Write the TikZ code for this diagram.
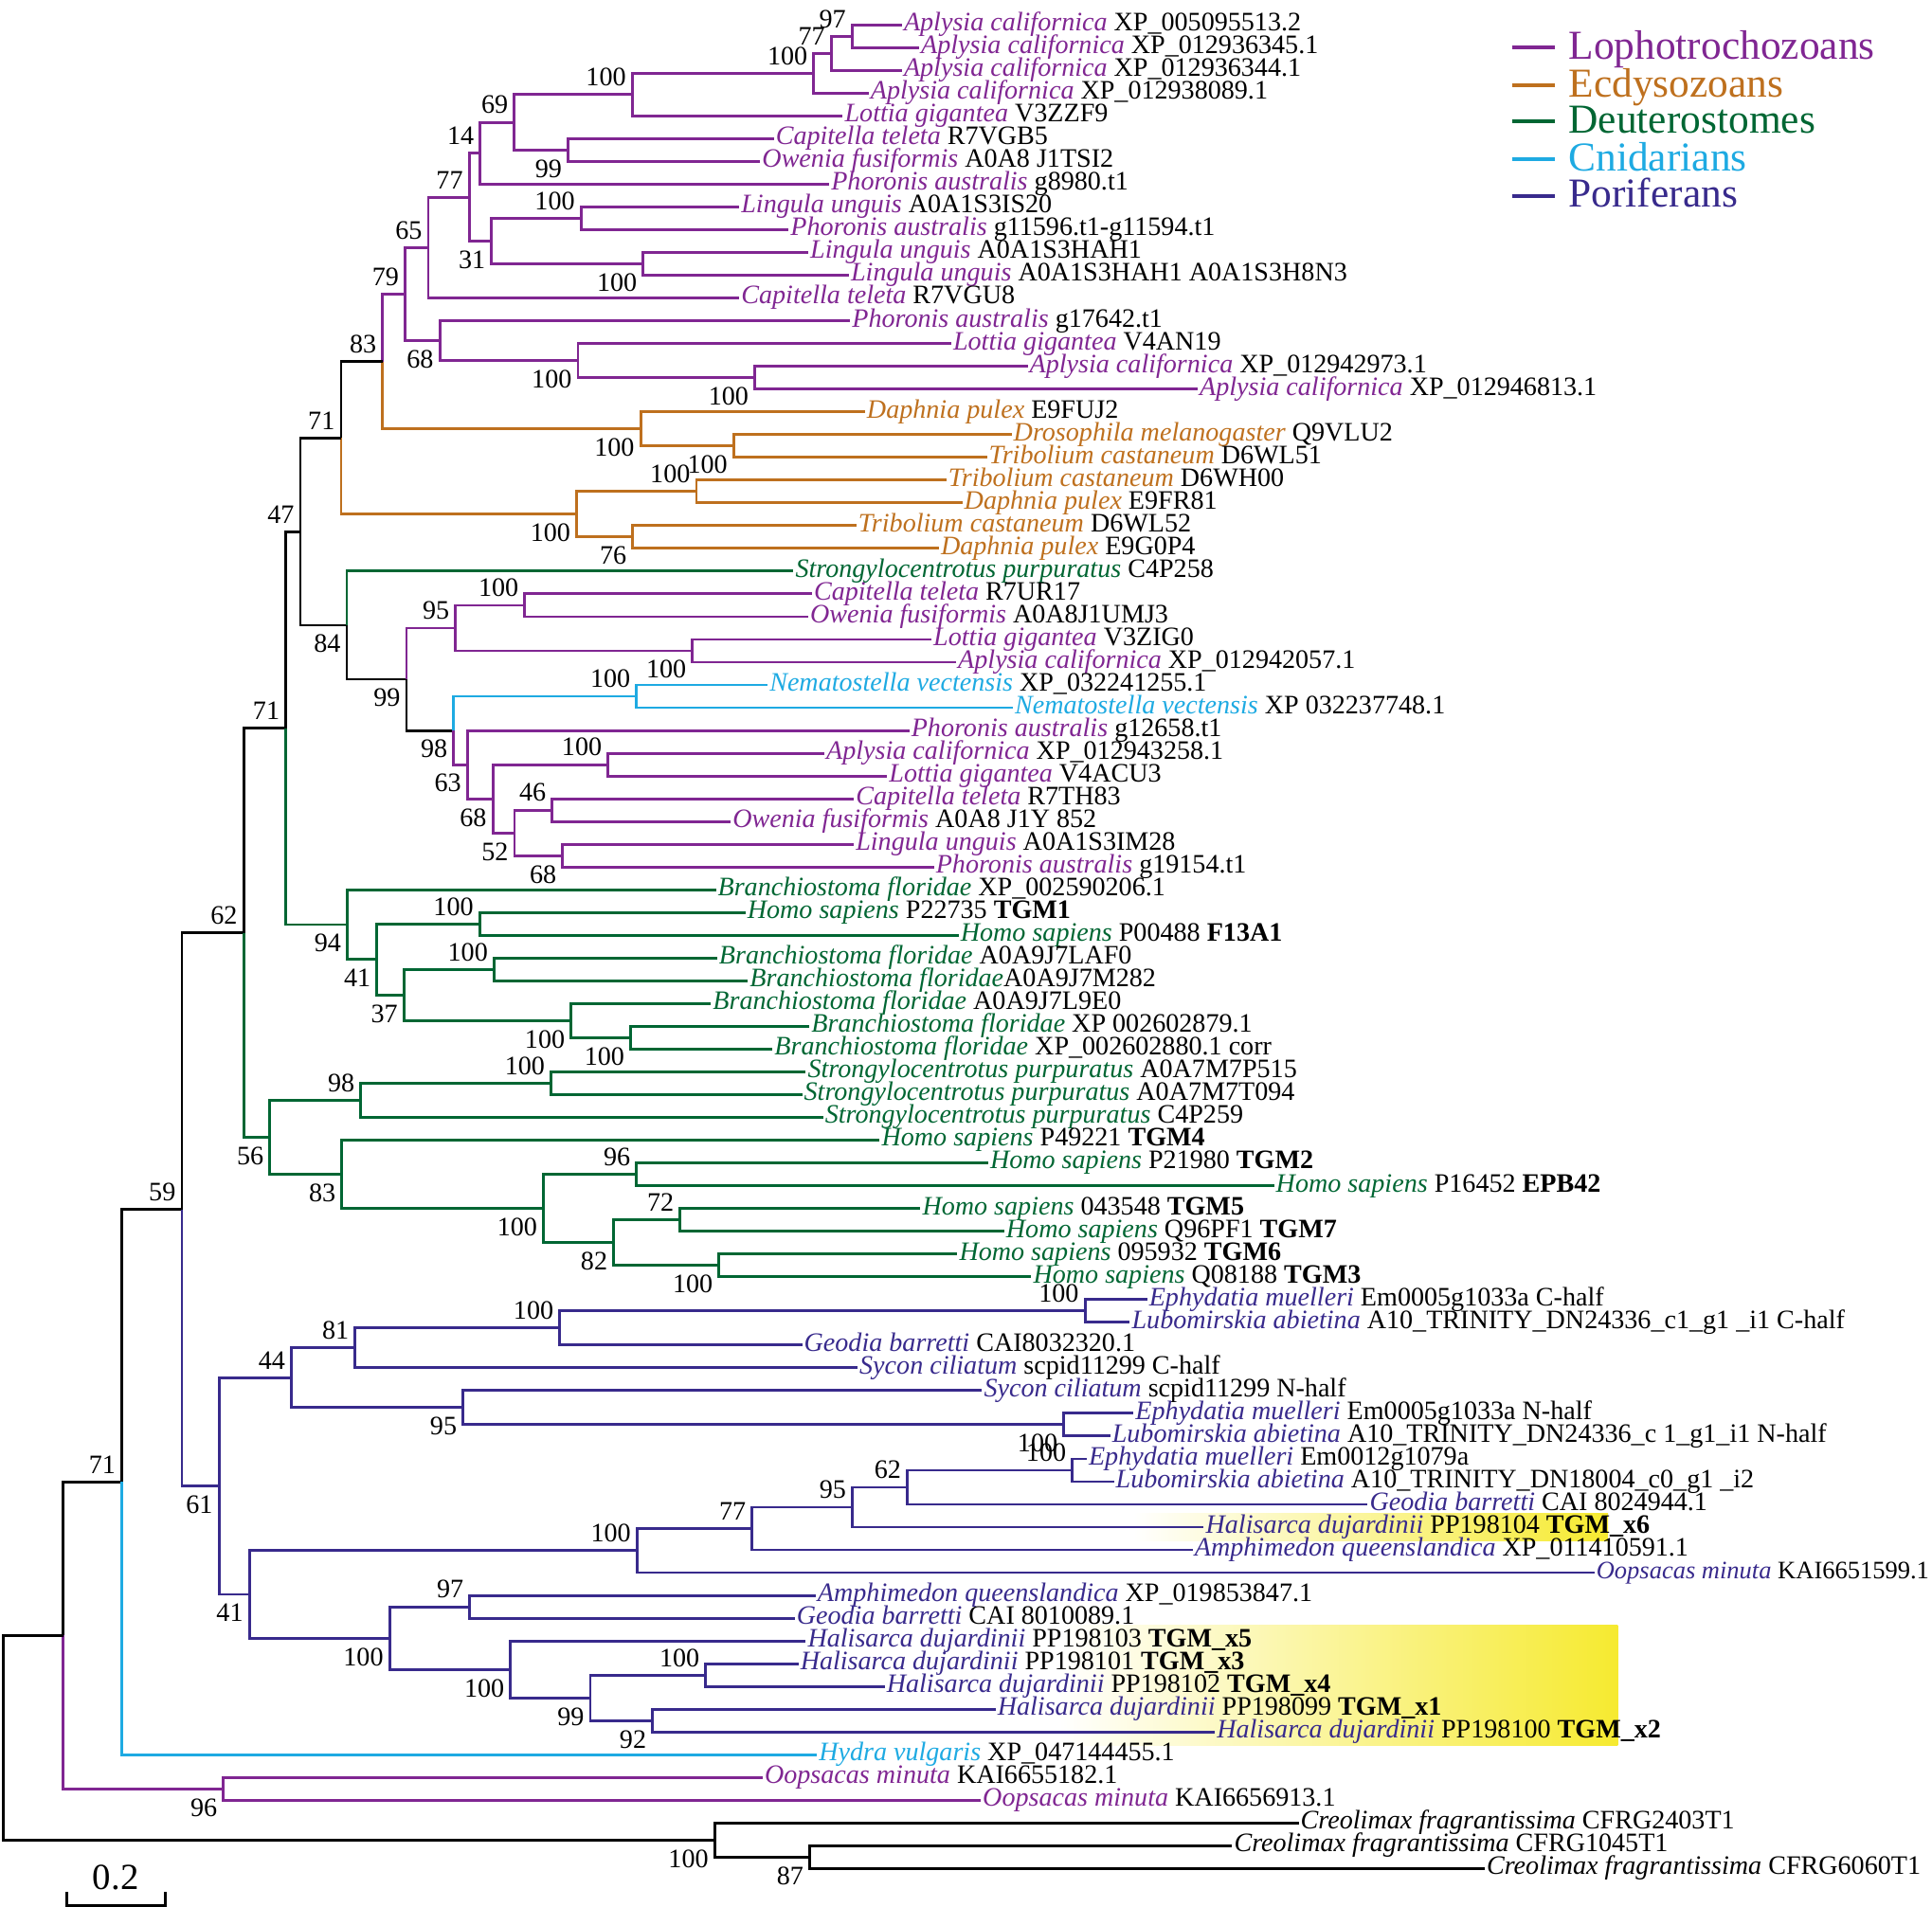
\documentclass[tikz,border=0pt]{standalone}
\usepackage{fontspec}
\setmainfont{Liberation Serif}
\usepackage{tikz}
\definecolor{lopho}{RGB}{128,38,146}
\definecolor{ecdy}{RGB}{190,112,30}
\definecolor{deut}{RGB}{0,102,51}
\definecolor{cnid}{RGB}{30,170,226}
\definecolor{pori}{RGB}{56,42,140}
\definecolor{hl}{RGB}{246,234,48}
\newcommand{\taxon}[2]{\textit{#1} \textcolor{black}{#2}}

\begin{document}
\begin{tikzpicture}[x=0.02cm,y=-0.3696cm,line width=1.25pt]
\tikzstyle{leaf}=[anchor=west,inner sep=0.3pt,text height=7.6pt,text depth=2pt,font=\fontsize{12.3}{12}\selectfont]
\tikzstyle{bsa}=[anchor=south east,inner sep=0pt,xshift=-0.08cm,yshift=0.115cm,font=\fontsize{12.3}{12}\selectfont]
\tikzstyle{bsb}=[anchor=north east,inner sep=0pt,xshift=-0.08cm,yshift=-0.135cm,font=\fontsize{12.3}{12}\selectfont]
\tikzstyle{key}=[anchor=west,inner xsep=0.2cm,inner ysep=0pt,text height=14pt,text depth=3.2pt,font=\fontsize{19}{19}\selectfont]
\useasboundingbox (0,-1.0931) rectangle (1568,82.673);

% highlighted Halisarca genes
\shade[left color=white,right color=hl] (920,65.41) rectangle (1305,66.6);
\shade[left color=white,right color=hl] (860,70.3) rectangle (1313,75.58);

% leaves
\node[leaf,text=lopho] (l0) at (732,0) {\taxon{Aplysia californica}{XP\_005095513.2}};
\node[leaf,text=lopho] (l1) at (746,1) {\taxon{Aplysia californica}{XP\_012936345.1}};
\node[leaf,text=lopho] (l2) at (732,2) {\taxon{Aplysia californica}{XP\_012936344.1}};
\node[leaf,text=lopho] (l3) at (705,3) {\taxon{Aplysia californica}{XP\_012938089.1}};
\node[leaf,text=lopho] (l4) at (684,4) {\taxon{Lottia gigantea}{V3ZZF9}};
\node[leaf,text=lopho] (l5) at (628,5) {\taxon{Capitella teleta}{R7VGB5}};
\node[leaf,text=lopho] (l6) at (617,6) {\taxon{Owenia fusiformis}{A0A8 J1TSI2}};
\node[leaf,text=lopho] (l7) at (673,7) {\taxon{Phoronis australis}{g8980.t1}};
\node[leaf,text=lopho] (l8) at (600,8) {\taxon{Lingula unguis}{A0A1S3IS20}};
\node[leaf,text=lopho] (l9) at (640,9) {\taxon{Phoronis australis}{g11596.t1-g11594.t1}};
\node[leaf,text=lopho] (l10) at (656,10) {\taxon{Lingula unguis}{A0A1S3HAH1}};
\node[leaf,text=lopho] (l11) at (689,11) {\taxon{Lingula unguis}{A0A1S3HAH1 A0A1S3H8N3}};
\node[leaf,text=lopho] (l12) at (600,12) {\taxon{Capitella teleta}{R7VGU8}};
\node[leaf,text=lopho] (l13) at (690,13) {\taxon{Phoronis australis}{g17642.t1}};
\node[leaf,text=lopho] (l14) at (772,14) {\taxon{Lottia gigantea}{V4AN19}};
\node[leaf,text=lopho] (l15) at (834,15) {\taxon{Aplysia californica}{XP\_012942973.1}};
\node[leaf,text=lopho] (l16) at (972,16) {\taxon{Aplysia californica}{XP\_012946813.1}};
\node[leaf,text=ecdy] (l17) at (702,17) {\taxon{Daphnia pulex}{E9FUJ2}};
\node[leaf,text=ecdy] (l18) at (821,18) {\taxon{Drosophila melanogaster}{Q9VLU2}};
\node[leaf,text=ecdy] (l19) at (801,19) {\taxon{Tribolium castaneum}{D6WL51}};
\node[leaf,text=ecdy] (l20) at (768,20) {\taxon{Tribolium castaneum}{D6WH00}};
\node[leaf,text=ecdy] (l21) at (781,21) {\taxon{Daphnia pulex}{E9FR81}};
\node[leaf,text=ecdy] (l22) at (695,22) {\taxon{Tribolium castaneum}{D6WL52}};
\node[leaf,text=ecdy] (l23) at (762,23) {\taxon{Daphnia pulex}{E9G0P4}};
\node[leaf,text=deut] (l24) at (644,24) {\taxon{Strongylocentrotus purpuratus}{C4P258}};
\node[leaf,text=lopho] (l25) at (659,25) {\taxon{Capitella teleta}{R7UR17}};
\node[leaf,text=lopho] (l26) at (656,26) {\taxon{Owenia fusiformis}{A0A8J1UMJ3}};
\node[leaf,text=lopho] (l27) at (756,27) {\taxon{Lottia gigantea}{V3ZIG0}};
\node[leaf,text=lopho] (l28) at (776,28) {\taxon{Aplysia californica}{XP\_012942057.1}};
\node[leaf,text=cnid] (l29) at (623,29) {\taxon{Nematostella vectensis}{XP\_032241255.1}};
\node[leaf,text=cnid] (l30) at (822,30) {\taxon{Nematostella vectensis}{XP 032237748.1}};
\node[leaf,text=lopho] (l31) at (738,31) {\taxon{Phoronis australis}{g12658.t1}};
\node[leaf,text=lopho] (l32) at (669,32) {\taxon{Aplysia californica}{XP\_012943258.1}};
\node[leaf,text=lopho] (l33) at (720,33) {\taxon{Lottia gigantea}{V4ACU3}};
\node[leaf,text=lopho] (l34) at (693,34) {\taxon{Capitella teleta}{R7TH83}};
\node[leaf,text=lopho] (l35) at (593,35) {\taxon{Owenia fusiformis}{A0A8 J1Y 852}};
\node[leaf,text=lopho] (l36) at (693,36) {\taxon{Lingula unguis}{A0A1S3IM28}};
\node[leaf,text=lopho] (l37) at (758,37) {\taxon{Phoronis australis}{g19154.t1}};
\node[leaf,text=deut] (l38) at (581,38) {\taxon{Branchiostoma floridae}{XP\_002590206.1}};
\node[leaf,text=deut] (l39) at (605,39) {\taxon{Homo sapiens}{P22735 \textbf{TGM1}}};
\node[leaf,text=deut] (l40) at (778,40) {\taxon{Homo sapiens}{P00488 \textbf{F13A1}}};
\node[leaf,text=deut] (l41) at (582,41) {\taxon{Branchiostoma floridae}{A0A9J7LAF0}};
\node[leaf,text=deut] (l42) at (607,42) {\textit{Branchiostoma floridae}\textcolor{black}{A0A9J7M282}};
\node[leaf,text=deut] (l43) at (577,43) {\taxon{Branchiostoma floridae}{A0A9J7L9E0}};
\node[leaf,text=deut] (l44) at (657,44) {\taxon{Branchiostoma floridae}{XP 002602879.1}};
\node[leaf,text=deut] (l45) at (627,45) {\taxon{Branchiostoma floridae}{XP\_002602880.1 corr}};
\node[leaf,text=deut] (l46) at (654,46) {\taxon{Strongylocentrotus purpuratus}{A0A7M7P515}};
\node[leaf,text=deut] (l47) at (651,47) {\taxon{Strongylocentrotus purpuratus}{A0A7M7T094}};
\node[leaf,text=deut] (l48) at (668,48) {\taxon{Strongylocentrotus purpuratus}{C4P259}};
\node[leaf,text=deut] (l49) at (714,49) {\taxon{Homo sapiens}{P49221 \textbf{TGM4}}};
\node[leaf,text=deut] (l50) at (802,50) {\taxon{Homo sapiens}{P21980 \textbf{TGM2}}};
\node[leaf,text=deut] (l51) at (1034,51) {\taxon{Homo sapiens}{P16452 \textbf{EPB42}}};
\node[leaf,text=deut] (l52) at (747,52) {\taxon{Homo sapiens}{043548 \textbf{TGM5}}};
\node[leaf,text=deut] (l53) at (815,53) {\taxon{Homo sapiens}{Q96PF1 \textbf{TGM7}}};
\node[leaf,text=deut] (l54) at (777,54) {\taxon{Homo sapiens}{095932 \textbf{TGM6}}};
\node[leaf,text=deut] (l55) at (837,55) {\taxon{Homo sapiens}{Q08188 \textbf{TGM3}}};
\node[leaf,text=pori] (l56) at (931,56) {\taxon{Ephydatia muelleri}{Em0005g1033a C-half}};
\node[leaf,text=pori] (l57) at (917,57) {\taxon{Lubomirskia abietina}{A10\_TRINITY\_DN24336\_c1\_g1 \_i1 C-half}};
\node[leaf,text=pori] (l58) at (651,58) {\taxon{Geodia barretti}{CAI8032320.1}};
\node[leaf,text=pori] (l59) at (696,59) {\taxon{Sycon ciliatum}{scpid11299 C-half}};
\node[leaf,text=pori] (l60) at (797,60) {\taxon{Sycon ciliatum}{scpid11299 N-half}};
\node[leaf,text=pori] (l61) at (920,61) {\taxon{Ephydatia muelleri}{Em0005g1033a N-half}};
\node[leaf,text=pori] (l62) at (901,62) {\taxon{Lubomirskia abietina}{A10\_TRINITY\_DN24336\_c 1\_g1\_i1 N-half}};
\node[leaf,text=pori] (l63) at (882,63) {\taxon{Ephydatia muelleri}{Em0012g1079a}};
\node[leaf,text=pori] (l64) at (904,64) {\taxon{Lubomirskia abietina}{A10\_TRINITY\_DN18004\_c0\_g1 \_i2}};
\node[leaf,text=pori] (l65) at (1110,65) {\taxon{Geodia barretti}{CAI 8024944.1}};
\node[leaf,text=pori] (l66) at (977,66) {\taxon{Halisarca dujardinii}{PP198104 \textbf{TGM\_x6}}};
\node[leaf,text=pori] (l67) at (968,67) {\taxon{Amphimedon queenslandica}{XP\_011410591.1}};
\node[leaf,text=pori,font=\fontsize{11.6}{12}\selectfont] (l68) at (1294,68) {\taxon{Oopsacas minuta}{KAI6651599.1}};
\node[leaf,text=pori] (l69) at (662,69) {\taxon{Amphimedon queenslandica}{XP\_019853847.1}};
\node[leaf,text=pori] (l70) at (645,70) {\taxon{Geodia barretti}{CAI 8010089.1}};
\node[leaf,text=pori] (l71) at (654,71) {\taxon{Halisarca dujardinii}{PP198103 \textbf{TGM\_x5}}};
\node[leaf,text=pori] (l72) at (648,72) {\taxon{Halisarca dujardinii}{PP198101 \textbf{TGM\_x3}}};
\node[leaf,text=pori] (l73) at (718,73) {\taxon{Halisarca dujardinii}{PP198102 \textbf{TGM\_x4}}};
\node[leaf,text=pori] (l74) at (808,74) {\taxon{Halisarca dujardinii}{PP198099 \textbf{TGM\_x1}}};
\node[leaf,text=pori] (l75) at (986,75) {\taxon{Halisarca dujardinii}{PP198100 \textbf{TGM\_x2}}};
\node[leaf,text=cnid] (l76) at (663,76) {\taxon{Hydra vulgaris}{XP\_047144455.1}};
\node[leaf,text=lopho] (l77) at (619,77) {\taxon{Oopsacas minuta}{KAI6655182.1}};
\node[leaf,text=lopho] (l78) at (796,78) {\taxon{Oopsacas minuta}{KAI6656913.1}};
\node[leaf] (l79) at (1054,79) {\taxon{Creolimax fragrantissima}{CFRG2403T1}};
\node[leaf] (l80) at (1000,80) {\taxon{Creolimax fragrantissima}{CFRG1045T1}};
\node[leaf] (l81) at (1205,81) {\taxon{Creolimax fragrantissima}{CFRG6060T1}};

% inner nodes
\coordinate (c1) at (691.6,0.5);
\coordinate (c2) at (674.7,1.25);
\coordinate (c3) at (660.4,2.125);
\coordinate (c4) at (513.1,3.0625);
\coordinate (c5) at (461.1,5.5);
\coordinate (c6) at (417.4,4.2813);
\coordinate (c7) at (389.7,5.6406);
\coordinate (c8) at (471.6,8.5);
\coordinate (c9) at (522,10.5);
\coordinate (c10) at (399,9.5);
\coordinate (c11) at (380.8,7.5703);
\coordinate (c12) at (347.6,9.7852);
\coordinate (c13) at (612.6,15.5);
\coordinate (c14) at (469.1,14.75);
\coordinate (c15) at (356.9,13.875);
\coordinate (c16) at (328.8,11.8301);
\coordinate (e1) at (595.5,18.5);
\coordinate (e2) at (519.9,17.75);
\coordinate (c17) at (310.6,14.7901);
\coordinate (e3) at (565.2,20.5);
\coordinate (e4) at (513.6,22.5);
\coordinate (e5) at (468,21.5);
\coordinate (c18) at (276.8,18.145);
\coordinate (m1) at (425.9,25.5);
\coordinate (m2) at (562,27.5);
\coordinate (m3) at (369.8,26.5);
\coordinate (m4) at (516.7,29.5);
\coordinate (m5) at (493.5,32.5);
\coordinate (m6) at (448.2,34.5);
\coordinate (m7) at (456.6,36.5);
\coordinate (m8) at (417.6,35.5);
\coordinate (m9) at (400,34);
\coordinate (m10) at (379.3,32.5);
\coordinate (m11) at (368.2,31);
\coordinate (m12) at (329.9,28.75);
\coordinate (m13) at (281.5,26.375);
\coordinate (c19) at (243.8,22.26);
\coordinate (d1) at (389.3,39.5);
\coordinate (d2) at (401,41.5);
\coordinate (d3) at (511.9,44.5);
\coordinate (d4) at (463.5,43.75);
\coordinate (d5) at (327.9,42.625);
\coordinate (d6) at (305.9,41.0625);
\coordinate (d7) at (281.9,39.5313);
\coordinate (c20) at (232,30.8956);
\coordinate (d8) at (447.3,46.5);
\coordinate (d9) at (292.8,47.25);
\coordinate (d10) at (516.7,50.5);
\coordinate (d11) at (552,52.5);
\coordinate (d12) at (583.6,54.5);
\coordinate (d13) at (498.1,53.5);
\coordinate (d14) at (441.1,52);
\coordinate (d15) at (277.4,50.5);
\coordinate (d16) at (219,48.875);
\coordinate (c21) at (197.7,39.8853);
\coordinate (p1) at (880.6,56.5);
\coordinate (p2) at (454.3,57.25);
\coordinate (p3) at (288.3,58.125);
\coordinate (p4) at (863.4,61.5);
\coordinate (p5) at (375.8,60.75);
\coordinate (p6) at (236.5,59.4375);
\coordinate (p7) at (870.3,63.5);
\coordinate (p8) at (736.4,64.25);
\coordinate (p9) at (691.8,65.125);
\coordinate (p10) at (610.4,66.0625);
\coordinate (p11) at (517,67.0313);
\coordinate (p12) at (381.3,69.5);
\coordinate (p13) at (572.8,72.5);
\coordinate (p14) at (529.6,74.5);
\coordinate (p15) at (479.1,73.5);
\coordinate (p16) at (414.4,72.25);
\coordinate (p17) at (316.2,70.875);
\coordinate (p18) at (202.4,68.9531);
\coordinate (p19) at (177.7,64.1953);
\coordinate (c22) at (147.6,52.0403);
\coordinate (c23) at (98.9,64.0202);
\coordinate (o1) at (181.4,77.5);
\coordinate (c24) at (51.3,70.7601);
\coordinate (k1) at (657.1,80.5);
\coordinate (k2) at (580,79.75);
\coordinate (root) at (2.5,75.255);

% branches
\draw[lopho] (c1) |- (l0) (c1) |- (l1) (c2) |- (c1) (c2) |- (l2) (c3) |- (c2) (c3) |- (l3);
\draw[lopho] (c4) |- (c3) (c4) |- (l4) (c5) |- (l5) (c5) |- (l6) (c6) |- (c4) (c6) |- (c5);
\draw[lopho] (c7) |- (c6) (c7) |- (l7) (c8) |- (l8) (c8) |- (l9) (c9) |- (l10) (c9) |- (l11);
\draw[lopho] (c10) |- (c8) (c10) |- (c9) (c11) |- (c7) (c11) |- (c10) (c12) |- (c11) (c12) |- (l12);
\draw[lopho] (c13) |- (l15) (c13) |- (l16) (c14) |- (l14) (c14) |- (c13) (c15) |- (l13) (c15) |- (c14);
\draw[lopho] (c16) |- (c12) (c16) |- (c15) (c17) |- (c16);
\draw[ecdy] (c17) |- (e2) (e2) |- (l17) (e2) |- (e1) (e1) |- (l18) (e1) |- (l19);
\draw[ecdy] (c18) |- (e5) (e5) |- (e3) (e5) |- (e4) (e3) |- (l20) (e3) |- (l21) (e4) |- (l22) (e4) |- (l23);
\draw (c18) |- (c17) (c19) |- (c18) (c19) |- (m13) (m13) |- (m12) (m12) |- (m11);
\draw[deut] (m13) |- (l24);
\draw[lopho] (m12) |- (m3) (m3) |- (m1) (m3) |- (m2) (m1) |- (l25) (m1) |- (l26) (m2) |- (l27) (m2) |- (l28);
\draw[cnid] (m11) |- (m4) (m4) |- (l29) (m4) |- (l30);
\draw[lopho] (m11) |- (m10) (m10) |- (l31) (m10) |- (m9) (m9) |- (m5) (m9) |- (m8) (m5) |- (l32) (m5) |- (l33);
\draw[lopho] (m8) |- (m6) (m8) |- (m7) (m6) |- (l34) (m6) |- (l35) (m7) |- (l36) (m7) |- (l37);
\draw (c20) |- (c19) (c21) |- (c20) (c22) |- (c21) (c23) |- (c22) (c24) |- (c23);
\draw[deut] (c20) |- (d7) (d7) |- (l38) (d7) |- (d6) (d6) |- (d1) (d6) |- (d5) (d1) |- (l39) (d1) |- (l40);
\draw[deut] (d5) |- (d2) (d5) |- (d4) (d2) |- (l41) (d2) |- (l42) (d4) |- (l43) (d4) |- (d3) (d3) |- (l44) (d3) |- (l45);
\draw[deut] (c21) |- (d16) (d16) |- (d9) (d16) |- (d15) (d9) |- (d8) (d9) |- (l48) (d8) |- (l46) (d8) |- (l47);
\draw[deut] (d15) |- (l49) (d15) |- (d14) (d14) |- (d10) (d14) |- (d13) (d10) |- (l50) (d10) |- (l51);
\draw[deut] (d13) |- (d11) (d13) |- (d12) (d11) |- (l52) (d11) |- (l53) (d12) |- (l54) (d12) |- (l55);
\draw[pori] (c22) |- (p19) (p19) |- (p6) (p19) |- (p18) (p6) |- (p3) (p6) |- (p5);
\draw[pori] (p3) |- (p2) (p3) |- (l59) (p2) |- (p1) (p2) |- (l58) (p1) |- (l56) (p1) |- (l57);
\draw[pori] (p5) |- (l60) (p5) |- (p4) (p4) |- (l61) (p4) |- (l62);
\draw[pori] (p18) |- (p11) (p18) |- (p17) (p11) |- (p10) (p11) |- (l68) (p10) |- (p9) (p10) |- (l67);
\draw[pori] (p9) |- (p8) (p9) |- (l66) (p8) |- (p7) (p8) |- (l65) (p7) |- (l63) (p7) |- (l64);
\draw[pori] (p17) |- (p12) (p17) |- (p16) (p12) |- (l69) (p12) |- (l70) (p16) |- (l71) (p16) |- (p15);
\draw[pori] (p15) |- (p13) (p15) |- (p14) (p13) |- (l72) (p13) |- (l73) (p14) |- (l74) (p14) |- (l75);
\draw[cnid] (c23) |- (l76);
\draw[lopho] (c24) |- (o1) (o1) |- (l77) (o1) |- (l78);
\draw (root) |- (c24) (root) |- (k2) (k2) |- (l79) (k2) |- (k1) (k1) |- (l80) (k1) |- (l81);

% bootstrap values
\node[bsa] (bc1) at (c1) {97};
\node[bsa] (bc2) at (c2) {77};
\node[bsa] (bc3) at (c3) {100};
\node[bsa] (bc4) at (c4) {100};
\node[bsb] (bc5) at (c5) {99};
\node[bsa] (bc6) at (c6) {69};
\node[bsa] (bc7) at (c7) {14};
\node[bsa] (bc8) at (c8) {100};
\node[bsb] (bc9) at (c9) {100};
\node[bsb] (bc10) at (c10) {31};
\node[bsa] (bc11) at (c11) {77};
\node[bsa] (bc12) at (c12) {65};
\node[bsb] (bc13) at (c13) {100};
\node[bsb] (bc14) at (c14) {100};
\node[bsb] (bc15) at (c15) {68};
\node[bsa] (bc16) at (c16) {79};
\node[bsa] (bc17) at (c17) {83};
\node[bsb] (be1) at (e1) {100};
\node[bsb] (be2) at (e2) {100};
\node[bsa] (be3) at (e3) {100};
\node[bsb] (be4) at (e4) {76};
\node[bsb] (be5) at (e5) {100};
\node[bsa] (bc18) at (c18) {71};
\node[bsa] (bc19) at (c19) {47};
\node[bsa] (bm1) at (m1) {100};
\node[bsb] (bm2) at (m2) {100};
\node[bsa] (bm3) at (m3) {95};
\node[bsa] (bm4) at (m4) {100};
\node[bsa] (bm5) at (m5) {100};
\node[bsa] (bm6) at (m6) {46};
\node[bsb] (bm7) at (m7) {68};
\node[bsb] (bm8) at (m8) {52};
\node[bsb] (bm9) at (m9) {68};
\node[bsb] (bm10) at (m10) {63};
\node[bsb] (bm11) at (m11) {98};
\node[bsb] (bm12) at (m12) {99};
\node[bsb] (bm13) at (m13) {84};
\node[bsa] (bd1) at (d1) {100};
\node[bsa] (bd2) at (d2) {100};
\node[bsb] (bd3) at (d3) {100};
\node[bsb] (bd4) at (d4) {100};
\node[bsb] (bd5) at (d5) {37};
\node[bsb] (bd6) at (d6) {41};
\node[bsb] (bd7) at (d7) {94};
\node[bsa] (bc20) at (c20) {71};
\node[bsa] (bd8) at (d8) {100};
\node[bsa] (bd9) at (d9) {98};
\node[bsa] (bd10) at (d10) {96};
\node[bsa] (bd11) at (d11) {72};
\node[bsb] (bd12) at (d12) {100};
\node[bsb] (bd13) at (d13) {82};
\node[bsb] (bd14) at (d14) {100};
\node[bsb] (bd15) at (d15) {83};
\node[bsb] (bd16) at (d16) {56};
\node[bsa] (bc21) at (c21) {62};
\node[bsa] (bp1) at (p1) {100};
\node[bsa] (bp2) at (p2) {100};
\node[bsa] (bp3) at (p3) {81};
\node[bsb] (bp4) at (p4) {100};
\node[bsb] (bp5) at (p5) {95};
\node[bsa] (bp6) at (p6) {44};
\node[bsa] (bp7) at (p7) {100};
\node[bsa] (bp8) at (p8) {62};
\node[bsa] (bp9) at (p9) {95};
\node[bsa] (bp10) at (p10) {77};
\node[bsa] (bp11) at (p11) {100};
\node[bsa] (bp12) at (p12) {97};
\node[bsa] (bp13) at (p13) {100};
\node[bsb] (bp14) at (p14) {92};
\node[bsb] (bp15) at (p15) {99};
\node[bsb] (bp16) at (p16) {100};
\node[bsb] (bp17) at (p17) {100};
\node[bsb] (bp18) at (p18) {41};
\node[bsb] (bp19) at (p19) {61};
\node[bsa] (bc22) at (c22) {59};
\node[bsa] (bc23) at (c23) {71};
\node[bsb] (bo1) at (o1) {96};
\node[bsb] (bk1) at (k1) {87};
\node[bsb] (bk2) at (k2) {100};

% legend
\coordinate (g1s) at (1227,0.985);
\coordinate (g2s) at (1227,2.652);
\coordinate (g3s) at (1227,4.248);
\coordinate (g4s) at (1227,5.909);
\coordinate (g5s) at (1227,7.505);
\node[key,text=lopho] (g1) at (1262,0.985) {Lophotrochozoans};
\node[key,text=ecdy] (g2) at (1262,2.652) {Ecdysozoans};
\node[key,text=deut] (g3) at (1262,4.248) {Deuterostomes};
\node[key,text=cnid] (g4) at (1262,5.909) {Cnidarians};
\node[key,text=pori] (g5) at (1262,7.505) {Poriferans};
\draw[lopho,line width=1.7pt] (g1s) -- (g1.west);
\draw[ecdy,line width=1.7pt] (g2s) -- (g2.west);
\draw[deut,line width=1.7pt] (g3s) -- (g3.west);
\draw[cnid,line width=1.7pt] (g4s) -- (g4.west);
\draw[pori,line width=1.7pt] (g5s) -- (g5.west);

% scale bar
\coordinate (s0) at (54,82.03);
\coordinate (s1) at (54,82.62);
\coordinate (s2) at (134,82.62);
\coordinate (s3) at (134,82.03);
\draw (s0) -- (s1) -- (s2) -- (s3);
\node[font=\fontsize{17}{17}\selectfont] (sl) at (94,81.4) {0.2};
\end{tikzpicture}
\end{document}
